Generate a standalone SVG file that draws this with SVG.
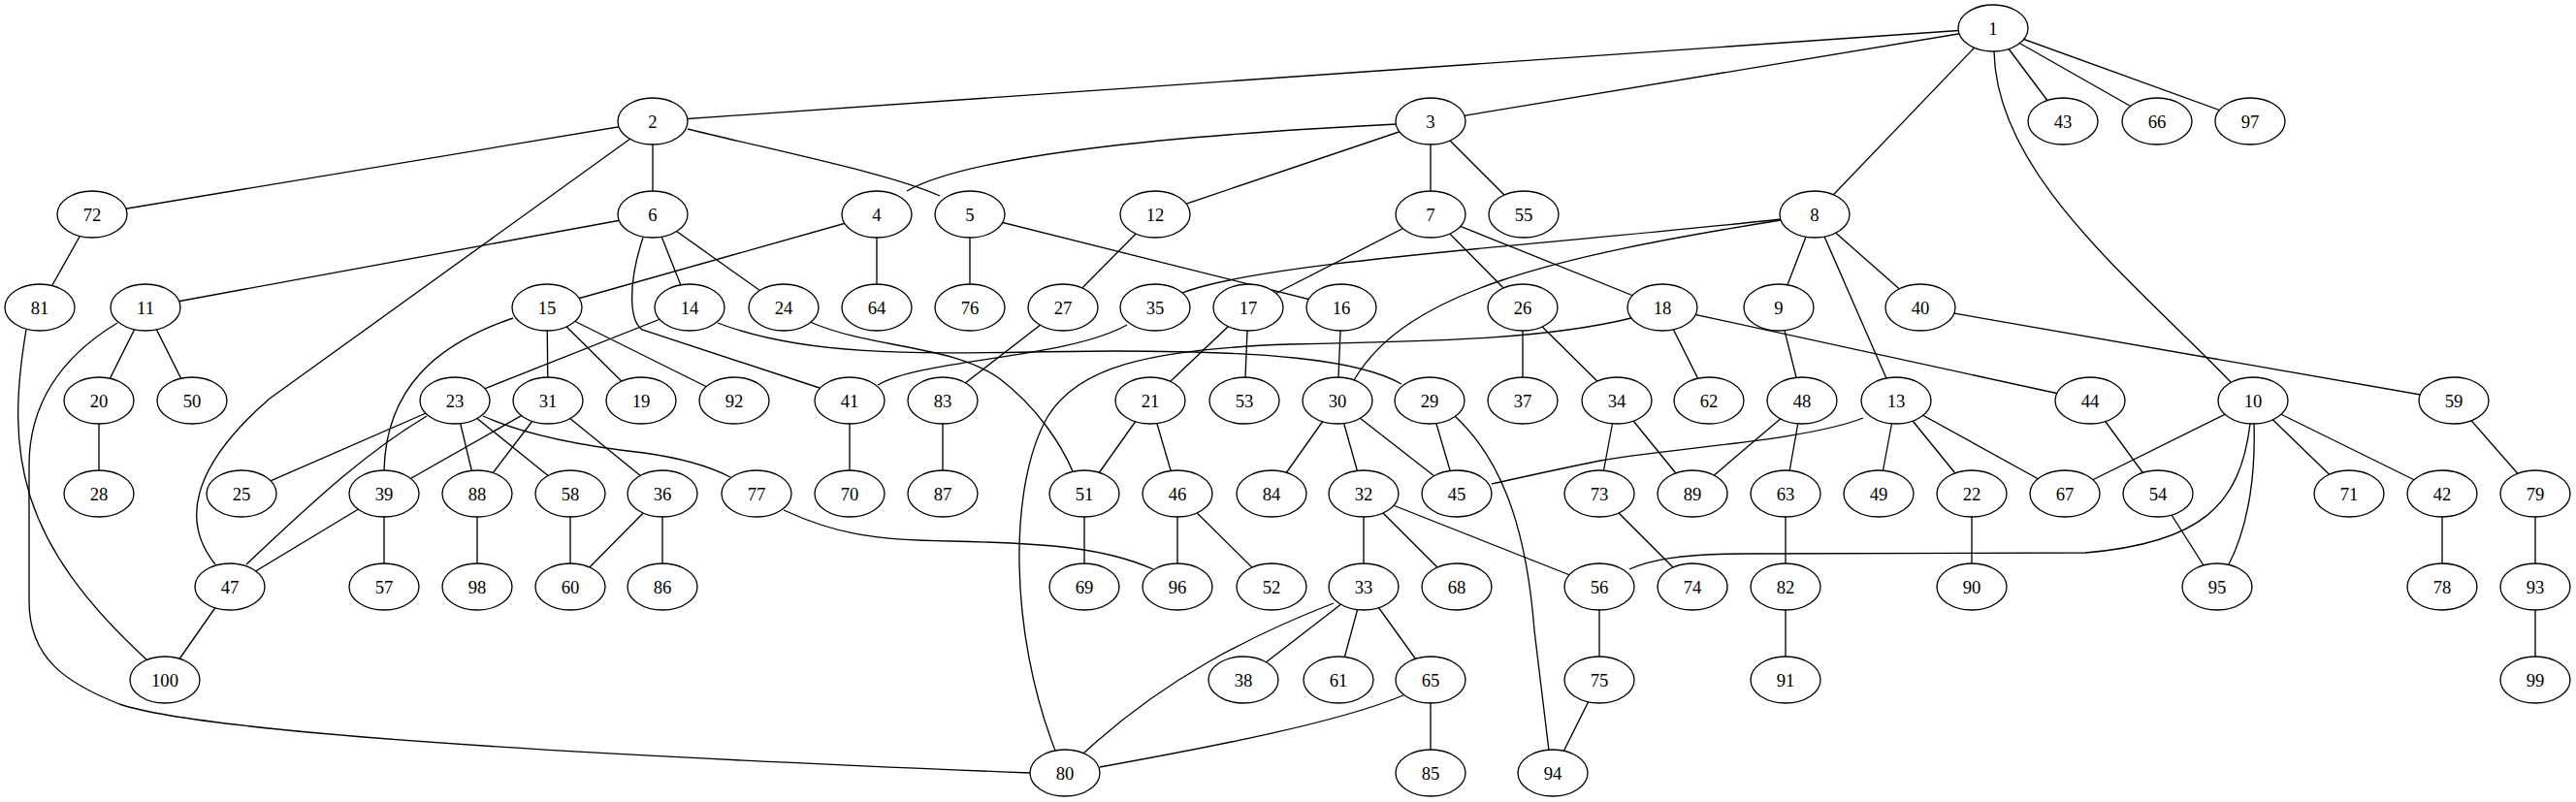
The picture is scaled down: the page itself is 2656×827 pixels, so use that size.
<svg xmlns="http://www.w3.org/2000/svg" width="2656" height="827" viewBox="0 0 2656 827">
<style>
.e{fill:none;stroke:#000;stroke-width:1.33}
.n ellipse{fill:#fff;stroke:#000;stroke-width:1.33}
.n text{font-family:"Liberation Serif","Times New Roman",serif;font-size:18.67px;text-anchor:middle;fill:#000}
</style>
<rect width="2656" height="827" fill="#fff"/>
<g id="edges">
<path class="e" d="M2055,29L673,125"/>
<path class="e" d="M2055,29L1475,125"/>
<path class="e" d="M2055,29L1871,221"/>
<path class="e" d="M2055,29L2127,125"/>
<path class="e" d="M2055,29L2224,125"/>
<path class="e" d="M2055,29L2320,125"/>
<path class="e" d="M2056,53C2058,180 2200,290 2300,394"/>
<path class="e" d="M673,125L95,221"/>
<path class="e" d="M673,125L673,221"/>
<path class="e" d="M709,133C820,160 920,180 969,202"/>
<path class="e" d="M650,143L278,411C210,470 180,530 222,582"/>
<path class="e" d="M1440,128C1200,140 1000,160 935,197"/>
<path class="e" d="M1475,125L1191,221"/>
<path class="e" d="M1475,125L1475,221"/>
<path class="e" d="M1475,125L1571,221"/>
<path class="e" d="M95,221L41,317"/>
<path class="e" d="M673,221L150,317"/>
<path class="e" d="M663,245C648,290 648,330 662,340L845,400"/>
<path class="e" d="M673,221L711,317"/>
<path class="e" d="M673,221L808,317"/>
<path class="e" d="M904,221L564,317"/>
<path class="e" d="M904,221L904,317"/>
<path class="e" d="M1000,221L1000,317"/>
<path class="e" d="M1000,221L1383,317"/>
<path class="e" d="M1191,221L1096,317"/>
<path class="e" d="M1475,221L1287,317"/>
<path class="e" d="M1475,221L1570,317"/>
<path class="e" d="M1475,221L1714,317"/>
<path class="e" d="M1836,226C1600,252 1300,270 1219,302"/>
<path class="e" d="M1836,227C1600,265 1450,300 1396,392"/>
<path class="e" d="M1871,221L1834,317"/>
<path class="e" d="M1871,221L1955,413"/>
<path class="e" d="M1871,221L1980,317"/>
<path class="e" d="M27,340C5,470 20,560 152,681"/>
<path class="e" d="M150,317L102,413"/>
<path class="e" d="M150,317L198,413"/>
<path class="e" d="M121,333C60,370 30,420 30,480L30,620C30,680 70,705 123,726C200,752 500,775 1062,797"/>
<path class="e" d="M529,328C450,355 398,400 396,485"/>
<path class="e" d="M564,317L565,413"/>
<path class="e" d="M564,317L661,413"/>
<path class="e" d="M564,317L757,413"/>
<path class="e" d="M711,317L469,413"/>
<path class="e" d="M740,333C850,375 1000,362 1150,362C1300,362 1400,370 1445,396"/>
<path class="e" d="M835,332C900,360 980,355 1030,390C1070,420 1095,460 1106,486"/>
<path class="e" d="M1096,317L972,413"/>
<path class="e" d="M1162,335C1100,370 950,370 905,397"/>
<path class="e" d="M1287,317L1186,413"/>
<path class="e" d="M1287,317L1283,413"/>
<path class="e" d="M1383,317L1379,413"/>
<path class="e" d="M1570,317L1570,413"/>
<path class="e" d="M1570,317L1667,413"/>
<path class="e" d="M1714,317L1762,413"/>
<path class="e" d="M1714,317L2155,413"/>
<path class="e" d="M1682,328C1600,348 1500,352 1330,355C1180,360 1110,380 1080,430C1040,500 1040,650 1088,774"/>
<path class="e" d="M1834,317L1858,413"/>
<path class="e" d="M1980,317L2530,413"/>
<path class="e" d="M102,413L102,509"/>
<path class="e" d="M469,413L249,509"/>
<path class="e" d="M440,429C380,465 330,510 254,582"/>
<path class="e" d="M469,413L492,509"/>
<path class="e" d="M469,413L588,509"/>
<path class="e" d="M498,429C540,448 600,460 664,467C700,472 730,480 753,492"/>
<path class="e" d="M565,413L396,509"/>
<path class="e" d="M565,413L492,509"/>
<path class="e" d="M565,413L683,509"/>
<path class="e" d="M876,413L876,509"/>
<path class="e" d="M972,413L972,509"/>
<path class="e" d="M1186,413L1118,509"/>
<path class="e" d="M1186,413L1214,509"/>
<path class="e" d="M1379,413L1311,509"/>
<path class="e" d="M1379,413L1406,509"/>
<path class="e" d="M1379,413L1502,509"/>
<path class="e" d="M1474,413L1502,509"/>
<path class="e" d="M1500,429C1555,480 1575,560 1582,650L1597,774"/>
<path class="e" d="M1667,413L1649,509"/>
<path class="e" d="M1667,413L1745,509"/>
<path class="e" d="M1858,413L1745,509"/>
<path class="e" d="M1858,413L1841,509"/>
<path class="e" d="M1921,431C1860,455 1720,462 1650,475C1600,485 1570,492 1538,499"/>
<path class="e" d="M1955,413L1937,509"/>
<path class="e" d="M1955,413L2033,509"/>
<path class="e" d="M1955,413L2129,509"/>
<path class="e" d="M2155,413L2225,509"/>
<path class="e" d="M2323,413L2129,509"/>
<path class="e" d="M2320,437C2310,520 2270,560 2150,570L1800,571C1730,571 1700,578 1680,587"/>
<path class="e" d="M2324,437C2326,500 2315,550 2297,584"/>
<path class="e" d="M2323,413L2422,509"/>
<path class="e" d="M2323,413L2518,509"/>
<path class="e" d="M2530,413L2614,509"/>
<path class="e" d="M396,509L237,605"/>
<path class="e" d="M396,509L396,605"/>
<path class="e" d="M492,509L492,605"/>
<path class="e" d="M588,509L588,605"/>
<path class="e" d="M683,509L588,605"/>
<path class="e" d="M683,509L683,605"/>
<path class="e" d="M808,526C860,550 900,557 980,558C1080,560 1140,565 1189,587"/>
<path class="e" d="M1118,509L1118,605"/>
<path class="e" d="M1214,509L1214,605"/>
<path class="e" d="M1214,509L1311,605"/>
<path class="e" d="M1406,509L1406,605"/>
<path class="e" d="M1406,509L1502,605"/>
<path class="e" d="M1406,509L1649,605"/>
<path class="e" d="M1649,509L1745,605"/>
<path class="e" d="M1841,509L1841,605"/>
<path class="e" d="M2033,509L2033,605"/>
<path class="e" d="M2225,509L2286,605"/>
<path class="e" d="M2518,509L2518,605"/>
<path class="e" d="M2614,509L2614,605"/>
<path class="e" d="M237,605L170,701"/>
<path class="e" d="M1375,622C1290,655 1200,700 1117,777"/>
<path class="e" d="M1406,605L1282,701"/>
<path class="e" d="M1406,605L1380,701"/>
<path class="e" d="M1406,605L1475,701"/>
<path class="e" d="M1649,605L1649,701"/>
<path class="e" d="M1841,605L1841,701"/>
<path class="e" d="M2614,605L2614,701"/>
<path class="e" d="M1447,717C1380,745 1250,770 1134,791"/>
<path class="e" d="M1475,701L1475,797"/>
<path class="e" d="M1649,701L1601,797"/>
</g>
<g id="n1" class="n"><ellipse cx="2055" cy="29" rx="36" ry="24"/><text x="2055" y="35.5">1</text></g>
<g id="n2" class="n"><ellipse cx="673" cy="125" rx="36" ry="24"/><text x="673" y="131.5">2</text></g>
<g id="n3" class="n"><ellipse cx="1475" cy="125" rx="36" ry="24"/><text x="1475" y="131.5">3</text></g>
<g id="n43" class="n"><ellipse cx="2127" cy="125" rx="36" ry="24"/><text x="2127" y="131.5">43</text></g>
<g id="n66" class="n"><ellipse cx="2224" cy="125" rx="36" ry="24"/><text x="2224" y="131.5">66</text></g>
<g id="n97" class="n"><ellipse cx="2320" cy="125" rx="36" ry="24"/><text x="2320" y="131.5">97</text></g>
<g id="n72" class="n"><ellipse cx="95" cy="221" rx="36" ry="24"/><text x="95" y="227.5">72</text></g>
<g id="n6" class="n"><ellipse cx="673" cy="221" rx="36" ry="24"/><text x="673" y="227.5">6</text></g>
<g id="n4" class="n"><ellipse cx="904" cy="221" rx="36" ry="24"/><text x="904" y="227.5">4</text></g>
<g id="n5" class="n"><ellipse cx="1000" cy="221" rx="36" ry="24"/><text x="1000" y="227.5">5</text></g>
<g id="n12" class="n"><ellipse cx="1191" cy="221" rx="36" ry="24"/><text x="1191" y="227.5">12</text></g>
<g id="n7" class="n"><ellipse cx="1475" cy="221" rx="36" ry="24"/><text x="1475" y="227.5">7</text></g>
<g id="n55" class="n"><ellipse cx="1571" cy="221" rx="36" ry="24"/><text x="1571" y="227.5">55</text></g>
<g id="n8" class="n"><ellipse cx="1871" cy="221" rx="36" ry="24"/><text x="1871" y="227.5">8</text></g>
<g id="n81" class="n"><ellipse cx="41" cy="317" rx="36" ry="24"/><text x="41" y="323.5">81</text></g>
<g id="n11" class="n"><ellipse cx="150" cy="317" rx="36" ry="24"/><text x="150" y="323.5">11</text></g>
<g id="n15" class="n"><ellipse cx="564" cy="317" rx="36" ry="24"/><text x="564" y="323.5">15</text></g>
<g id="n14" class="n"><ellipse cx="711" cy="317" rx="36" ry="24"/><text x="711" y="323.5">14</text></g>
<g id="n24" class="n"><ellipse cx="808" cy="317" rx="36" ry="24"/><text x="808" y="323.5">24</text></g>
<g id="n64" class="n"><ellipse cx="904" cy="317" rx="36" ry="24"/><text x="904" y="323.5">64</text></g>
<g id="n76" class="n"><ellipse cx="1000" cy="317" rx="36" ry="24"/><text x="1000" y="323.5">76</text></g>
<g id="n27" class="n"><ellipse cx="1096" cy="317" rx="36" ry="24"/><text x="1096" y="323.5">27</text></g>
<g id="n35" class="n"><ellipse cx="1191" cy="317" rx="36" ry="24"/><text x="1191" y="323.5">35</text></g>
<g id="n17" class="n"><ellipse cx="1287" cy="317" rx="36" ry="24"/><text x="1287" y="323.5">17</text></g>
<g id="n16" class="n"><ellipse cx="1383" cy="317" rx="36" ry="24"/><text x="1383" y="323.5">16</text></g>
<g id="n26" class="n"><ellipse cx="1570" cy="317" rx="36" ry="24"/><text x="1570" y="323.5">26</text></g>
<g id="n18" class="n"><ellipse cx="1714" cy="317" rx="36" ry="24"/><text x="1714" y="323.5">18</text></g>
<g id="n9" class="n"><ellipse cx="1834" cy="317" rx="36" ry="24"/><text x="1834" y="323.5">9</text></g>
<g id="n40" class="n"><ellipse cx="1980" cy="317" rx="36" ry="24"/><text x="1980" y="323.5">40</text></g>
<g id="n20" class="n"><ellipse cx="102" cy="413" rx="36" ry="24"/><text x="102" y="419.5">20</text></g>
<g id="n50" class="n"><ellipse cx="198" cy="413" rx="36" ry="24"/><text x="198" y="419.5">50</text></g>
<g id="n23" class="n"><ellipse cx="469" cy="413" rx="36" ry="24"/><text x="469" y="419.5">23</text></g>
<g id="n31" class="n"><ellipse cx="565" cy="413" rx="36" ry="24"/><text x="565" y="419.5">31</text></g>
<g id="n19" class="n"><ellipse cx="661" cy="413" rx="36" ry="24"/><text x="661" y="419.5">19</text></g>
<g id="n92" class="n"><ellipse cx="757" cy="413" rx="36" ry="24"/><text x="757" y="419.5">92</text></g>
<g id="n41" class="n"><ellipse cx="876" cy="413" rx="36" ry="24"/><text x="876" y="419.5">41</text></g>
<g id="n83" class="n"><ellipse cx="972" cy="413" rx="36" ry="24"/><text x="972" y="419.5">83</text></g>
<g id="n21" class="n"><ellipse cx="1186" cy="413" rx="36" ry="24"/><text x="1186" y="419.5">21</text></g>
<g id="n53" class="n"><ellipse cx="1283" cy="413" rx="36" ry="24"/><text x="1283" y="419.5">53</text></g>
<g id="n30" class="n"><ellipse cx="1379" cy="413" rx="36" ry="24"/><text x="1379" y="419.5">30</text></g>
<g id="n29" class="n"><ellipse cx="1474" cy="413" rx="36" ry="24"/><text x="1474" y="419.5">29</text></g>
<g id="n37" class="n"><ellipse cx="1570" cy="413" rx="36" ry="24"/><text x="1570" y="419.5">37</text></g>
<g id="n34" class="n"><ellipse cx="1667" cy="413" rx="36" ry="24"/><text x="1667" y="419.5">34</text></g>
<g id="n62" class="n"><ellipse cx="1762" cy="413" rx="36" ry="24"/><text x="1762" y="419.5">62</text></g>
<g id="n48" class="n"><ellipse cx="1858" cy="413" rx="36" ry="24"/><text x="1858" y="419.5">48</text></g>
<g id="n13" class="n"><ellipse cx="1955" cy="413" rx="36" ry="24"/><text x="1955" y="419.5">13</text></g>
<g id="n44" class="n"><ellipse cx="2155" cy="413" rx="36" ry="24"/><text x="2155" y="419.5">44</text></g>
<g id="n10" class="n"><ellipse cx="2323" cy="413" rx="36" ry="24"/><text x="2323" y="419.5">10</text></g>
<g id="n59" class="n"><ellipse cx="2530" cy="413" rx="36" ry="24"/><text x="2530" y="419.5">59</text></g>
<g id="n28" class="n"><ellipse cx="102" cy="509" rx="36" ry="24"/><text x="102" y="515.5">28</text></g>
<g id="n25" class="n"><ellipse cx="249" cy="509" rx="36" ry="24"/><text x="249" y="515.5">25</text></g>
<g id="n39" class="n"><ellipse cx="396" cy="509" rx="36" ry="24"/><text x="396" y="515.5">39</text></g>
<g id="n88" class="n"><ellipse cx="492" cy="509" rx="36" ry="24"/><text x="492" y="515.5">88</text></g>
<g id="n58" class="n"><ellipse cx="588" cy="509" rx="36" ry="24"/><text x="588" y="515.5">58</text></g>
<g id="n36" class="n"><ellipse cx="683" cy="509" rx="36" ry="24"/><text x="683" y="515.5">36</text></g>
<g id="n77" class="n"><ellipse cx="780" cy="509" rx="36" ry="24"/><text x="780" y="515.5">77</text></g>
<g id="n70" class="n"><ellipse cx="876" cy="509" rx="36" ry="24"/><text x="876" y="515.5">70</text></g>
<g id="n87" class="n"><ellipse cx="972" cy="509" rx="36" ry="24"/><text x="972" y="515.5">87</text></g>
<g id="n51" class="n"><ellipse cx="1118" cy="509" rx="36" ry="24"/><text x="1118" y="515.5">51</text></g>
<g id="n46" class="n"><ellipse cx="1214" cy="509" rx="36" ry="24"/><text x="1214" y="515.5">46</text></g>
<g id="n84" class="n"><ellipse cx="1311" cy="509" rx="36" ry="24"/><text x="1311" y="515.5">84</text></g>
<g id="n32" class="n"><ellipse cx="1406" cy="509" rx="36" ry="24"/><text x="1406" y="515.5">32</text></g>
<g id="n45" class="n"><ellipse cx="1502" cy="509" rx="36" ry="24"/><text x="1502" y="515.5">45</text></g>
<g id="n73" class="n"><ellipse cx="1649" cy="509" rx="36" ry="24"/><text x="1649" y="515.5">73</text></g>
<g id="n89" class="n"><ellipse cx="1745" cy="509" rx="36" ry="24"/><text x="1745" y="515.5">89</text></g>
<g id="n63" class="n"><ellipse cx="1841" cy="509" rx="36" ry="24"/><text x="1841" y="515.5">63</text></g>
<g id="n49" class="n"><ellipse cx="1937" cy="509" rx="36" ry="24"/><text x="1937" y="515.5">49</text></g>
<g id="n22" class="n"><ellipse cx="2033" cy="509" rx="36" ry="24"/><text x="2033" y="515.5">22</text></g>
<g id="n67" class="n"><ellipse cx="2129" cy="509" rx="36" ry="24"/><text x="2129" y="515.5">67</text></g>
<g id="n54" class="n"><ellipse cx="2225" cy="509" rx="36" ry="24"/><text x="2225" y="515.5">54</text></g>
<g id="n71" class="n"><ellipse cx="2422" cy="509" rx="36" ry="24"/><text x="2422" y="515.5">71</text></g>
<g id="n42" class="n"><ellipse cx="2518" cy="509" rx="36" ry="24"/><text x="2518" y="515.5">42</text></g>
<g id="n79" class="n"><ellipse cx="2614" cy="509" rx="36" ry="24"/><text x="2614" y="515.5">79</text></g>
<g id="n47" class="n"><ellipse cx="237" cy="605" rx="36" ry="24"/><text x="237" y="611.5">47</text></g>
<g id="n57" class="n"><ellipse cx="396" cy="605" rx="36" ry="24"/><text x="396" y="611.5">57</text></g>
<g id="n98" class="n"><ellipse cx="492" cy="605" rx="36" ry="24"/><text x="492" y="611.5">98</text></g>
<g id="n60" class="n"><ellipse cx="588" cy="605" rx="36" ry="24"/><text x="588" y="611.5">60</text></g>
<g id="n86" class="n"><ellipse cx="683" cy="605" rx="36" ry="24"/><text x="683" y="611.5">86</text></g>
<g id="n69" class="n"><ellipse cx="1118" cy="605" rx="36" ry="24"/><text x="1118" y="611.5">69</text></g>
<g id="n96" class="n"><ellipse cx="1214" cy="605" rx="36" ry="24"/><text x="1214" y="611.5">96</text></g>
<g id="n52" class="n"><ellipse cx="1311" cy="605" rx="36" ry="24"/><text x="1311" y="611.5">52</text></g>
<g id="n33" class="n"><ellipse cx="1406" cy="605" rx="36" ry="24"/><text x="1406" y="611.5">33</text></g>
<g id="n68" class="n"><ellipse cx="1502" cy="605" rx="36" ry="24"/><text x="1502" y="611.5">68</text></g>
<g id="n56" class="n"><ellipse cx="1649" cy="605" rx="36" ry="24"/><text x="1649" y="611.5">56</text></g>
<g id="n74" class="n"><ellipse cx="1745" cy="605" rx="36" ry="24"/><text x="1745" y="611.5">74</text></g>
<g id="n82" class="n"><ellipse cx="1841" cy="605" rx="36" ry="24"/><text x="1841" y="611.5">82</text></g>
<g id="n90" class="n"><ellipse cx="2033" cy="605" rx="36" ry="24"/><text x="2033" y="611.5">90</text></g>
<g id="n95" class="n"><ellipse cx="2286" cy="605" rx="36" ry="24"/><text x="2286" y="611.5">95</text></g>
<g id="n78" class="n"><ellipse cx="2518" cy="605" rx="36" ry="24"/><text x="2518" y="611.5">78</text></g>
<g id="n93" class="n"><ellipse cx="2614" cy="605" rx="36" ry="24"/><text x="2614" y="611.5">93</text></g>
<g id="n100" class="n"><ellipse cx="170" cy="701" rx="36" ry="24"/><text x="170" y="707.5">100</text></g>
<g id="n38" class="n"><ellipse cx="1282" cy="701" rx="36" ry="24"/><text x="1282" y="707.5">38</text></g>
<g id="n61" class="n"><ellipse cx="1380" cy="701" rx="36" ry="24"/><text x="1380" y="707.5">61</text></g>
<g id="n65" class="n"><ellipse cx="1475" cy="701" rx="36" ry="24"/><text x="1475" y="707.5">65</text></g>
<g id="n75" class="n"><ellipse cx="1649" cy="701" rx="36" ry="24"/><text x="1649" y="707.5">75</text></g>
<g id="n91" class="n"><ellipse cx="1841" cy="701" rx="36" ry="24"/><text x="1841" y="707.5">91</text></g>
<g id="n99" class="n"><ellipse cx="2614" cy="701" rx="36" ry="24"/><text x="2614" y="707.5">99</text></g>
<g id="n80" class="n"><ellipse cx="1098" cy="797" rx="36" ry="24"/><text x="1098" y="803.5">80</text></g>
<g id="n85" class="n"><ellipse cx="1475" cy="797" rx="36" ry="24"/><text x="1475" y="803.5">85</text></g>
<g id="n94" class="n"><ellipse cx="1601" cy="797" rx="36" ry="24"/><text x="1601" y="803.5">94</text></g>
</svg>
